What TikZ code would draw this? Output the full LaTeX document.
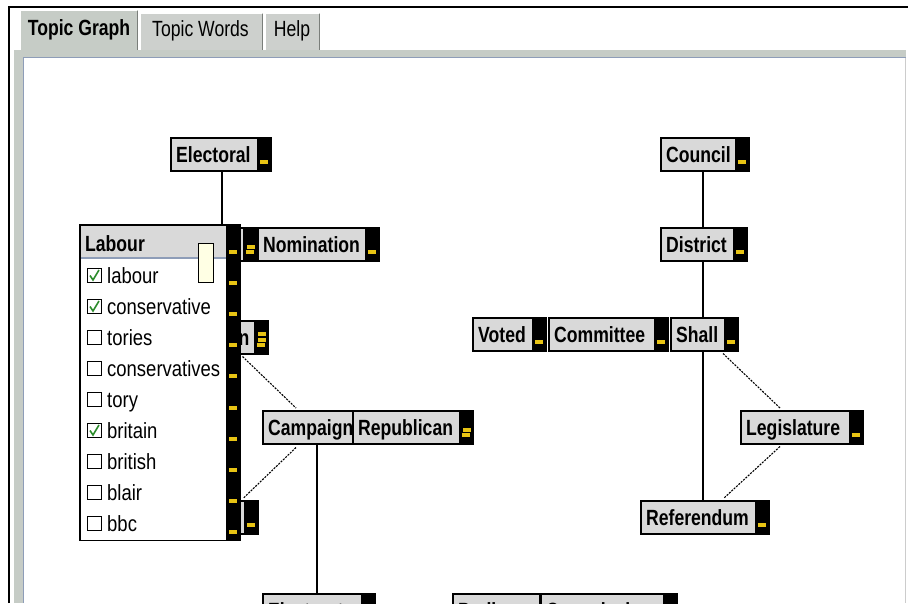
\documentclass[tikz,border=0pt]{standalone}
\usepackage{fontspec}
\usetikzlibrary{calc}
\newfontfamily\uifont{Liberation Sans}[FakeStretch=0.8]
\newfontfamily\uilistfont{Liberation Sans}[FakeStretch=0.84]

\definecolor{panelgrey}{HTML}{C6CCC6}
\definecolor{tabgrey}{HTML}{CDD0CD}
\definecolor{nodegrey}{HTML}{D9D9D9}
\definecolor{handleyellow}{HTML}{E8C414}
\definecolor{tipyellow}{HTML}{FFFFE4}
\definecolor{sepblue}{HTML}{8E9DB8}
\definecolor{checkgreen}{HTML}{2C8C2C}
\definecolor{shadowgrey}{HTML}{7A7E7A}

% a topic box: name, x, y, total width (handle included), label
\newcommand\topicbox[5]{%
  \node[topic, minimum width=#4] (#1) at (#2,#3) {};
  \node[topiclabel] (#1-text) at ($(#1.north west)+(6,25)$) {#5};
}
% one row of the word list: name, row centre, word
\newcommand\listrow[3]{%
  \node[checkbox] (#1-box) at (94.5,#2) {};
  \node[listlabel] (#1) at (107,#2+8) {#3};
}
% green tick inside a checkbox
\newcommand\tickmark[1]{%
  \draw[tick] ($(#1-box.center)+(-4.5,0)$) -- ++(3,4.5) -- ++(6,-10);
}
% extra yellow dash on a stacked handle, k steps above the bottom one
\newcommand\extradash[2]{%
  \fill[handleyellow] ($(#1.south east)+(-11,-7-#2*6)$) rectangle ++(8,-4);
}

\begin{document}
\begin{tikzpicture}[x=1pt,y=-1pt,
  topic/.style={anchor=north west, minimum height=33, inner sep=0,
    draw=black, line width=1.5pt, fill=nodegrey,
    path picture={
      \fill[black] ($(path picture bounding box.north east)+(-14,0)$)
        rectangle (path picture bounding box.south east);
      \fill[handleyellow] ($(path picture bounding box.south east)+(-11,-7)$)
        rectangle ++(8,-4);
    }},
  topiclabel/.style={anchor=base west, inner sep=0,
    font=\uifont\bfseries\fontsize{22}{24}\selectfont},
  tab/.style={anchor=north west, inner sep=0, fill=tabgrey,
    font=\uifont\fontsize{22}{24}\selectfont},
  checkbox/.style={draw=black, line width=1.1pt, fill=white,
    minimum width=14, minimum height=14, inner sep=0},
  listlabel/.style={anchor=base west, inner sep=0,
    font=\uilistfont\fontsize{22}{24}\selectfont},
  tick/.style={checkgreen, line width=1.6pt},
  link/.style={black, line width=1.3pt},
  weaklink/.style={black, line width=1.1pt, dash pattern=on 2pt off 1.2pt},
]
\useasboundingbox (0,0) rectangle (908,603);
\clip (0,0) rectangle (908,603);

% ---------- window frame ----------
\fill[white] (0,0) rectangle (908,603);
\fill[panelgrey] (14,50) rectangle (906,57);
\fill[panelgrey] (14,50) rectangle (23,603);
\draw[sepblue, line width=1pt] (23.5,603) -- (23.5,57.5) -- (906,57.5);
\draw[black!20, line width=0.8pt] (905,58) -- (905,603);
\draw[black, line width=2pt] (9,603) -- (9,7) -- (908,7);

% ---------- tabs ----------
\node[tab, fill=panelgrey, minimum width=118, minimum height=47] (tabgraph) at (20,10) {};
\node[anchor=center, inner sep=0, font=\uifont\bfseries\fontsize{22}{24}\selectfont]
  (tabgraph-text) at (79,30) {Topic Graph};
\draw[white, line width=1.2pt] (20.5,50) -- (20.5,10.5) -- (137,10.5);
\draw[shadowgrey, line width=1.2pt] (137.5,11) -- (137.5,50);

\node[tab, minimum width=123, minimum height=37] (tabwords) at (140,13) {};
\node[anchor=center, inner sep=0, font=\uifont\fontsize{22}{24}\selectfont]
  (tabwords-text) at (200.5,31) {Topic Words};
\draw[white, line width=1.2pt] (140.5,50) -- (140.5,13.5) -- (262,13.5);
\draw[shadowgrey, line width=1.2pt] (262.5,14) -- (262.5,50);

\node[tab, minimum width=55, minimum height=37] (tabhelp) at (265,13) {};
\node[anchor=center, inner sep=0, font=\uifont\fontsize{22}{24}\selectfont]
  (tabhelp-text) at (292,31) {Help};
\draw[white, line width=1.2pt] (265.5,50) -- (265.5,13.5) -- (319,13.5);
\draw[shadowgrey, line width=1.2pt] (319.5,14) -- (319.5,50);

% ---------- topic nodes ----------
\topicbox{electoral}{170}{137}{100}{Electoral}
\topicbox{council}{660}{137}{88}{Council}
\topicbox{district}{660}{227}{86}{District}

\topicbox{stacka}{150}{227}{106}{}
\extradash{stacka}{1}
\topicbox{nomination}{257}{227}{121}{Nomination}

\topicbox{stackb}{170}{320}{97}{}
\node[anchor=base east, inner sep=0, font=\uifont\bfseries\fontsize{22}{24}\selectfont]
  (stackb-text) at ($(stackb.north east)+(-19,25)$) {n};
\extradash{stackb}{1}
\extradash{stackb}{2}

\topicbox{voted}{472}{317}{73}{Voted}
\topicbox{committee}{548}{317}{119}{Committee}
\topicbox{shall}{670}{317}{67}{Shall}

\topicbox{campaign}{262}{410}{104}{Campaign}
\topicbox{republican}{352}{410}{120}{Republican}
\extradash{republican}{1}

\topicbox{legislature}{740}{410}{122}{Legislature}
\topicbox{referendum}{640}{500}{128}{Referendum}

\topicbox{stackc}{150}{500}{107}{}

\topicbox{electorate}{262}{593}{112}{Electorate}
\topicbox{parliament}{452}{593}{100}{Parliament}
\topicbox{commission}{540}{593}{136}{Commission}

% ---------- connectors ----------
\draw[link] ($(council.south west)+(43,0)$) -- ($(district.north west)+(43,0)$);
\draw[link] ($(district.south west)+(43,0)$) -- ($(shall.north west)+(33,0)$);
\draw[link] ($(shall.south west)+(33,0)$) -- ($(referendum.north west)+(63,0)$);
\draw[weaklink] ($(shall.south west)+(53,2)$) -- ($(legislature.north west)+(40,-2)$);
\draw[weaklink] ($(legislature.south west)+(40,2)$) -- ($(referendum.north west)+(84,-2)$);
\draw[weaklink] ($(stackb.south east)+(-26,2)$) -- ($(campaign.north west)+(34,-2)$);
\draw[weaklink] ($(campaign.south west)+(34,3)$) -- ($(stackc.north east)+(-15,-2)$);
\draw[link] ($(campaign.south west)+(55,0)$) -- ($(electorate.north west)+(55,0)$);

% ---------- word list pop-up ----------
\node[anchor=north west, minimum width=160, minimum height=315, inner sep=0,
      fill=white] (labour) at (80,225) {};
\fill[nodegrey] (labour.north west) rectangle ($(labour.north west)+(146,33)$);
\draw[sepblue, line width=1.2pt] ($(labour.north west)+(0,33)$) -- ++(146,0);
\node[anchor=base west, inner sep=0, font=\uifont\bfseries\fontsize{22}{24}\selectfont]
  (labour-title) at (85,251) {Labour};
\draw[link] ($(electoral.south west)+(52,0)$) -- ($(labour.north west)+(142,0)$);

\listrow{w1}{275.5}{labour}
\listrow{w2}{306.5}{conservative}
\listrow{w3}{337.5}{tories}
\listrow{w4}{368.5}{conservatives}
\listrow{w5}{399.5}{tory}
\listrow{w6}{430.5}{britain}
\listrow{w7}{461.5}{british}
\listrow{w8}{492.5}{blair}
\listrow{w9}{523.5}{bbc}
\tickmark{w1}
\tickmark{w2}
\tickmark{w6}

% handle column of the pop-up
\fill[black] ($(labour.north east)+(-14,0)$) rectangle (labour.south east);
\foreach \k in {0,...,9}
  \fill[handleyellow] ($(labour.north east)+(-11,25+31.1*\k)$) rectangle ++(8,4);
\draw[black, line width=1.8pt] (labour.north west) rectangle (labour.south east);

% tooltip
\node[anchor=north west, minimum width=15, minimum height=39, inner sep=0,
      draw=black, line width=1.2pt, fill=tipyellow] (tip) at (198,243) {};
\end{tikzpicture}
\end{document}
